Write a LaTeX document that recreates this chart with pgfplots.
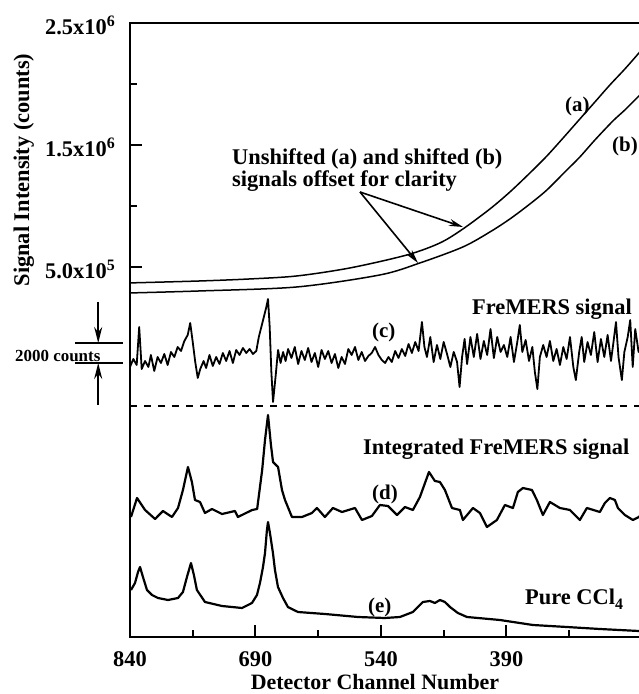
\documentclass[border=0pt]{standalone}
\usepackage{fontspec}
\setmainfont{Liberation Serif}
\usepackage{pgfplots}
\pgfplotsset{compat=1.18}
\usetikzlibrary{arrows.meta}
\newcommand\F{\fontsize{22.5}{27}\selectfont\bfseries}
\newcommand\Fs{\fontsize{21}{25}\selectfont\bfseries}
\newcommand\sx[1]{x10\raisebox{8bp}{\fontsize{16}{16}\selectfont #1}}
\begin{document}
\begin{tikzpicture}[font=\F]
% ---------- frame axis with lower traces (counts) ----------
\begin{axis}[at={(130bp,57bp)}, anchor=south west, scale only axis,
  width=527bp, height=614bp,
  xmin=210, xmax=840, x dir=reverse, ymin=0, ymax=61400, clip=false,
  xtick={840,690,540,390}, xticklabels={840,690,540,390},
  minor xtick={765,615,465,315},
  xtick pos=bottom, ytick=\empty, tick align=inside,
  major tick length=12bp, minor tick length=7bp,
  every tick/.style={black, line width=2bp},
  every minor tick/.style={black, line width=2bp},
  axis line style={line width=2.5bp},
  xticklabel style={font=\F, anchor=base, yshift=-29bp, inner sep=0pt},
]
% (c) FreMERS signal
\addplot[black, line width=1.8bp, line join=round] coordinates {
(840,27000)(836,27800)(832,27200)(829,31000)(826,26800)(822,27600)(818,27000)(815,28200)(811,26600)(807,28000)(803,27400)(799,28300)(795,27200)(791,28500)(787,28000)(783,29000)(779,28600)(775,29600)(771,30200)(768,31400)(765,29500)(762,27500)(759,25900)(756,26800)(752,27600)(749,26900)(745,28200)(741,27100)(737,28000)(733,27300)(729,28400)(725,27600)(721,28600)(717,27400)(713,28700)(709,28200)(705,28900)(701,28400)(697,28800)(693,28300)(689,28600)(686,30000)(683,31000)(680,32000)(677,33000)(675,33800)(673,31000)(671,26500)(669,23500)(666,26000)(663,28700)(660,27400)(657,28500)(654,27600)(651,28800)(647,27900)(643,29000)(639,27300)(635,28600)(631,27700)(627,28900)(623,27500)(619,28400)(615,27000)(611,28700)(607,27800)(603,28600)(599,27400)(595,28300)(591,26900)(587,28000)(583,27300)(579,28800)(575,28200)(571,29000)(567,27700)(563,28500)(559,27600)(555,28100)(551,28400)(547,29000)(543,28200)(539,27700)(535,27400)(531,28000)(527,27500)(523,28600)(519,27900)(515,28800)(511,28100)(507,29300)(503,28400)(499,29500)(495,28600)(491,31500)(488,29000)(485,28000)(481,30000)(477,27500)(473,29200)(469,27800)(465,29500)(461,28300)(457,27000)(453,28500)(449,27500)(446,25000)(443,28000)(440,29800)(437,27300)(433,30000)(429,28000)(425,30300)(421,27800)(417,29600)(413,28200)(409,30800)(405,27900)(401,30000)(397,28500)(393,29200)(389,28000)(385,30000)(381,27500)(377,29500)(374,31200)(371,28500)(367,29700)(363,27600)(359,29000)(356,26500)(353,24800)(350,28000)(346,29200)(342,28000)(338,29600)(334,27600)(330,28800)(326,27200)(322,29000)(318,27800)(314,30000)(310,27000)(307,25700)(303,28500)(300,30000)(297,27500)(293,29500)(289,28200)(285,30500)(281,27500)(277,29800)(273,28000)(269,30200)(265,27600)(262,29500)(259,31500)(256,28000)(252,25700)(249,28500)(245,30000)(242,31700)(239,27000)(236,30800)(232,28500)(228,29500)
};
% dashed separator
\addplot[black, line width=2bp, dash pattern=on 7bp off 7bp] coordinates {(840,23100)(210,23100)};
% (d) integrated FreMERS signal
\addplot[black, line width=2.2bp, line join=round] coordinates {
(838.8,12000)(831.6,13900)(822,12700)(810,11800)(800.6,12600)(789.8,12000)(782.6,12900)(776.7,14700)(770.7,17000)(766,15500)(762.3,13700)(756.3,13500)(750.4,12400)(742,12800)(730,12300)(714.5,12600)(711,12000)(694,12700)(688,12800)(682,16700)(678.6,19700)(675,22200)(671.5,19200)(669,17500)(663,17000)(658.3,14700)(654.7,13700)(646.4,12000)(634.4,12000)(622.5,12400)(616.5,12900)(607,12000)(597.4,12900)(586.6,12500)(571,12900)(562.7,11700)(550.8,12100)(541.2,13200)(531.6,13100)(520.8,12200)(511.3,13000)(501.8,12700)(493.4,14000)(482.6,16500)(475.5,15600)(469.5,15500)(463.5,14700)(455.1,12900)(445.6,12700)(442,11700)(430,12900)(421.7,12400)(413.3,11000)(401.4,11700)(391.8,13200)(382.2,12900)(376.3,14500)(370.3,14900)(359.5,14700)(353.6,13700)(346.4,12200)(338,13500)(326.1,12900)(314.1,12700)(302.2,11700)(293.8,12900)(278.3,12500)(272.3,13400)(266.3,13900)(260.3,13700)(256.7,12900)(248.4,12200)(238.8,11700)(231.6,12000)(226.8,12500)
};
% (e) pure CCl4
\addplot[black, line width=2.2bp, line join=round] coordinates {
(838.8,4700)(834,5400)(830.4,6500)(828,7000)(824.5,6000)(819.7,4700)(813.7,4200)(806.5,3900)(794.6,3700)(782.6,3900)(776.7,4500)(771.9,6000)(767.1,7400)(763.6,6200)(760,4700)(750.4,3500)(730,3100)(706.1,2900)(694.2,3400)(688.2,4200)(684.6,5400)(681,7000)(678.6,8400)(676.3,10700)(675,11500)(672.7,10400)(669.1,8400)(666.7,6700)(663.1,5000)(657.1,3900)(651.2,3000)(639.2,2500)(606.9,2300)(567.5,2000)(535.2,1900)(517.3,2000)(501.8,2500)(489.8,3500)(481.4,3600)(475.5,3400)(469.5,3700)(463.5,3500)(457.5,3000)(448,2400)(437.2,2000)(397.8,1700)(358.3,1200)(317.7,1000)(278.3,800)(231.6,600)(226.8,550)
};
% 2000-count scale bar
\draw[line width=1.8bp] (axis cs:906,29400) -- (axis cs:848,29400);
\draw[line width=1.8bp] (axis cs:906,27400) -- (axis cs:848,27400);
\draw[line width=1.8bp,-{Stealth[length=16bp,width=8bp]}] (axis cs:878,33500) -- (axis cs:878,29400);
\draw[line width=1.8bp,-{Stealth[length=16bp,width=8bp]}] (axis cs:878,23200) -- (axis cs:878,27400);
\end{axis}
% ---------- upper axis: raw signals ----------
\begin{axis}[at={(130bp,399bp)}, anchor=south west, scale only axis,
  width=527bp, height=272bp,
  xmin=210, xmax=840, x dir=reverse, ymin=270000, ymax=2500000,
  axis line style={draw=none}, xtick=\empty,
  ytick={500000,1500000,2500000},
  yticklabels={5.0\sx{5},1.5\sx{6},2.5\sx{6}},
  minor ytick={1000000,2000000},
  ytick pos=left, tick align=inside, scaled y ticks=false,
  major tick length=12bp, minor tick length=7bp,
  every tick/.style={black, line width=2bp},
  every minor tick/.style={black, line width=2bp},
  yticklabel style={font=\F, anchor=base east, xshift=-15bp, yshift=-11.5bp, inner sep=0pt},
]
% (a) unshifted
\addplot[black, line width=1.5bp, smooth] coordinates {
(840,369000)(756.3,385000)(696.6,401600)(640.4,426200)(577.1,491700)(508.9,598300)(469.5,696600)(442.0,811400)(409.7,975400)(385.8,1114700)(361.9,1270500)(341.6,1409800)(320.1,1573700)(302.2,1713100)(284.2,1852400)(266.3,1992000)(248.4,2122900)(231.6,2254100)(226.8,2295100)
};
% (b) shifted
\addplot[black, line width=1.5bp, smooth] coordinates {
(840,286800)(756.3,303200)(640.4,335900)(541.2,434400)(493.4,532700)(442.0,663900)(409.7,786800)(385.8,893400)(361.9,1016300)(341.6,1131100)(320.1,1278600)(302.2,1401600)(284.2,1540900)(262.7,1696700)(248.4,1786900)(231.6,1901600)(226.8,1934400)
};
\end{axis}
% ---------- annotations ----------
\node[anchor=base, rotate=90, inner sep=0pt] at (29bp,524bp) {Signal Intensity (counts)};
\node[anchor=base, inner sep=0pt, font=\fontsize{22}{26}\selectfont\bfseries] at (375bp,5bp) {Detector Channel Number};
\node[anchor=base west, inner sep=0pt] at (232bp,529bp) {Unshifted (a) and shifted (b)};
\node[anchor=base west, inner sep=0pt] at (232bp,507bp) {signals offset for clarity};
\draw[line width=1.6bp,-{Stealth[length=14bp,width=7bp]}] (360bp,502bp) -- (463bp,467bp);
\draw[line width=1.6bp,-{Stealth[length=14bp,width=7bp]}] (360bp,502bp) -- (418bp,431bp);
\node[anchor=base west, inner sep=0pt, font=\Fs] at (565bp,582bp) {(a)};
\node[anchor=base west, inner sep=0pt, font=\Fs] at (612bp,542bp) {(b)};
\node[anchor=base west, inner sep=0pt] at (472bp,379bp) {FreMERS signal};
\node[anchor=base west, inner sep=0pt, font=\Fs] at (372bp,356bp) {(c)};
\node[anchor=base west, inner sep=0pt] at (363bp,239bp) {Integrated FreMERS signal};
\node[anchor=base west, inner sep=0pt, font=\Fs] at (372bp,194bp) {(d)};
\node[anchor=base west, inner sep=0pt, font=\Fs] at (368bp,81bp) {(e)};
\node[anchor=base west, inner sep=0pt] at (525bp,89bp) {Pure CCl\raisebox{-5bp}{\fontsize{16}{16}\selectfont 4}};
\node[anchor=base west, inner sep=0pt, font=\fontsize{17}{20}\selectfont\bfseries] at (15bp,332bp) {2000 counts};
\pgfresetboundingbox
\useasboundingbox (0,0) rectangle (639bp,694bp);
\end{tikzpicture}
\end{document}
